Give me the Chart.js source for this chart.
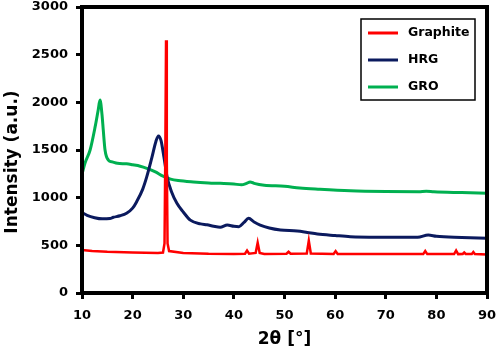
<!DOCTYPE html>
<html>
<head>
<meta charset="utf-8">
<script src="https://cdn.jsdelivr.net/npm/chart.js@4"></script>
<style>
  body { margin: 0; background: #fff; }
</style>
</head>
<body>
<canvas id="xrdChart" width="498" height="355"></canvas>
<script>
// series names + colours
const seriesNames = ['Graphite', 'HRG', 'GRO'];
const seriesColors = ['#ff0000', '#0b1a5e', '#00b050'];

// Graphite (red)
const graphiteX = [10, 12, 15, 20, 25, 26.0, 26.3, 26.45, 26.6, 26.75, 26.9, 27.2, 30, 35, 40,
  42.2, 42.6, 43.0, 44.3, 44.7, 45.1, 46, 50.4, 50.8, 51.2, 54.4, 54.8, 55.2, 59.7, 60.1, 60.5,
  70, 77.4, 77.8, 78.2, 83.5, 83.9, 84.3, 85.2, 85.5, 85.8, 87, 87.3, 87.6, 90];
const graphiteY = [451, 440, 432, 425, 420, 425, 520, 1400, 2650, 1400, 520, 440, 420, 412, 410,
  412, 445, 412, 420, 528, 420, 410, 412, 432, 412, 415, 549, 415, 410, 440, 410,
  408, 408, 440, 408, 408, 445, 408, 410, 425, 410, 410, 430, 410, 405];

// HRG (dark blue)
const hrgX = [10, 11, 12.5, 14, 15.5, 16.2, 17.5, 18.8, 20, 20.8, 22, 22.8, 23.8, 24.6, 25.1, 25.6,
  26.2, 26.8, 27.7, 28.75, 30, 31.4, 33.4, 34.7, 36, 37.3, 38.7, 40, 41, 42, 42.9, 44, 45.2, 47,
  49.2, 52.5, 54.5, 56.5, 60, 63, 70, 76.3, 78.4, 80, 85, 90];
const hrgY = [843, 815, 790, 778, 782, 794, 810, 836, 890, 958, 1090, 1220, 1420, 1590, 1647, 1600,
  1420, 1220, 1060, 941, 850, 765, 725, 715, 700, 690, 713, 700, 696, 740, 783, 745, 713, 682,
  661, 650, 635, 619, 603, 591, 585, 584, 608, 595, 583, 574];

// GRO (green)
const groX = [10, 10.6, 11.6, 12.6, 13.2, 13.56, 13.96, 14.2, 14.55, 15.2, 16, 17, 18.8, 20, 21.5,
  22.8, 24.5, 26, 27.5, 29, 32, 35, 37.3, 40, 41.5, 42.5, 43.2, 44, 46, 50, 53, 57, 63, 70, 76.5,
  78, 79.5, 85, 90];
const groY = [1248, 1363, 1500, 1745, 1920, 2024, 1867, 1710, 1500, 1395, 1375, 1360, 1355, 1345, 1330,
  1308, 1270, 1225, 1195, 1180, 1165, 1155, 1150, 1143, 1135, 1150, 1165, 1150, 1130, 1120, 1101, 1088, 1073, 1065, 1062,
  1068, 1062, 1053, 1046];

// axes
const xMin = 10, xMax = 90, xStep = 10;
const yMin = 0, yMax = 3000, yStep = 500;
const yTitle = 'Intensity (a.u.)';

const allX = [graphiteX, hrgX, groX];
const allY = [graphiteY, hrgY, groY];

const tickFont = { family: 'DejaVu Sans', size: 13, weight: 'bold', lineHeight: 1 };
const titleFont = { family: 'DejaVu Sans', size: 17, weight: 'bold' };

// black frame round the plot
const framePlugin = {
  id: 'frame',
  afterDraw(chart) {
    const { ctx, chartArea: a } = chart;
    ctx.save();
    ctx.strokeStyle = '#000';
    ctx.lineWidth = 4;
    ctx.strokeRect(a.left, a.top, a.right - a.left, a.bottom - a.top);
    ctx.restore();
  }
};

// y title sits a bit lower than the middle of the axis in the original
const yTitlePlugin = {
  id: 'yTitle',
  afterDraw(chart) {
    const { ctx, chartArea: a } = chart;
    ctx.save();
    ctx.translate(13, (a.top + a.bottom) / 2 + 12);
    ctx.rotate(-Math.PI / 2);
    ctx.font = 'bold 17px "DejaVu Sans"';
    ctx.fillStyle = '#000';
    ctx.textAlign = 'center';
    ctx.textBaseline = 'middle';
    ctx.fillText(yTitle, 0, 0);
    ctx.restore();
  }
};

// boxed legend in the top right corner
const boxLegend = {
  id: 'boxLegend',
  afterDraw(chart) {
    const { ctx, chartArea: a } = chart;
    const w = 114, h = 81;
    const x0 = a.right - 12 - w, y0 = a.top + 12;
    ctx.save();
    ctx.fillStyle = '#fff';
    ctx.fillRect(x0, y0, w, h);
    ctx.strokeStyle = '#000';
    ctx.lineWidth = 1.5;
    ctx.strokeRect(x0, y0, w, h);
    ctx.font = 'bold 12.5px "DejaVu Sans"';
    ctx.textBaseline = 'middle';
    chart.data.datasets.forEach((ds, i) => {
      const y = y0 + 14 + i * 27;
      ctx.strokeStyle = ds.borderColor;
      ctx.lineWidth = 3;
      ctx.beginPath();
      ctx.moveTo(x0 + 7, y);
      ctx.lineTo(x0 + 37, y);
      ctx.stroke();
      ctx.fillStyle = '#000';
      ctx.fillText(ds.label, x0 + 47, y);
    });
    ctx.restore();
  }
};

new Chart(document.getElementById('xrdChart'), {
  type: 'line',
  data: {
    datasets: seriesNames.map((name, i) => ({
      label: name,
      data: allX[i].map((x, j) => ({ x: x, y: allY[i][j] })),
      borderColor: seriesColors[i],
      borderWidth: i === 0 ? 2.5 : 3,
      pointRadius: 0,
      tension: 0,
      cubicInterpolationMode: i === 0 ? 'default' : 'monotone'
    }))
  },
  options: {
    responsive: false,
    animation: false,
    layout: { padding: { top: 7, right: 11, left: 0, bottom: 0 } },
    plugins: {
      legend: { display: false },
      tooltip: { enabled: false }
    },
    scales: {
      x: {
        type: 'linear',
        min: xMin,
        max: xMax,
        afterFit: (s) => { s.height = 62; s.paddingLeft = 0; s.paddingRight = 0; },
        ticks: { stepSize: xStep, color: '#000', font: tickFont, padding: 10, maxRotation: 0 },
        grid: { drawOnChartArea: false, drawTicks: true, tickLength: 6, tickWidth: 3, tickColor: '#000' },
        border: { display: false },
        title: { display: true, text: '2θ [°]', color: '#000', font: titleFont, padding: { top: 0, bottom: 5 } }
      },
      y: {
        min: yMin,
        max: yMax,
        afterFit: (s) => { s.width = 82; s.paddingTop = 0; s.paddingBottom = 0; },
        ticks: { stepSize: yStep, color: '#000', font: tickFont, padding: 8, format: { useGrouping: false } },
        grid: { drawOnChartArea: false, drawTicks: true, tickLength: 6, tickWidth: 3, tickColor: '#000' },
        border: { display: false }
      }
    }
  },
  plugins: [framePlugin, yTitlePlugin, boxLegend]
});
</script>
</body>
</html>
